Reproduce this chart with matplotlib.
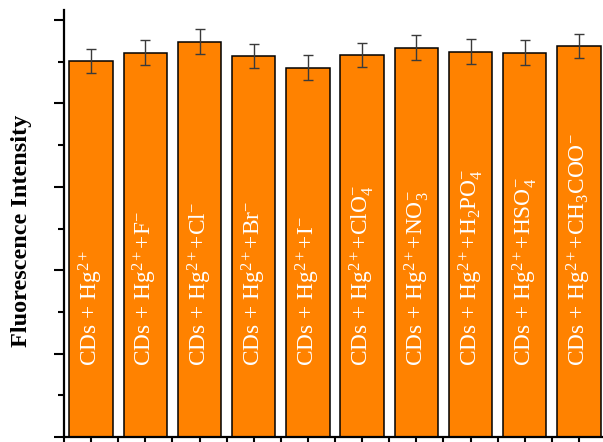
import matplotlib.pyplot as plt
import numpy as np

plt.rcParams['font.family'] = ['Liberation Serif', 'DejaVu Serif']
plt.rcParams['mathtext.fontset'] = 'custom'
plt.rcParams['mathtext.rm'] = 'Liberation Serif'
plt.rcParams['mathtext.it'] = 'Liberation Serif:italic'
plt.rcParams['mathtext.bf'] = 'Liberation Serif:bold'

labels = [
    r'CDs + Hg$^{2+}$',
    r'CDs + Hg$^{2+}$+F$^{-}$',
    r'CDs + Hg$^{2+}$+Cl$^{-}$',
    r'CDs + Hg$^{2+}$+Br$^{-}$',
    r'CDs + Hg$^{2+}$+I$^{-}$',
    r'CDs + Hg$^{2+}$+ClO$_{4}^{-}$',
    r'CDs + Hg$^{2+}$+NO$_{3}^{-}$',
    r'CDs + Hg$^{2+}$+H$_{2}$PO$_{4}^{-}$',
    r'CDs + Hg$^{2+}$+HSO$_{4}^{-}$',
    r'CDs + Hg$^{2+}$+CH$_{3}$COO$^{-}$',
]
values = [4.51, 4.61, 4.74, 4.565, 4.43, 4.58, 4.67, 4.62, 4.61, 4.69]
errors = [0.145, 0.15, 0.148, 0.142, 0.145, 0.148, 0.15, 0.15, 0.145, 0.145]

fig = plt.figure(figsize=(6.03, 4.42), dpi=100)
ax = fig.add_axes([64 / 603, 5 / 442, 542 / 603, 427 / 442])

x = np.arange(1, len(values) + 1)
ax.bar(x, values, width=0.8, color='#FF8200', edgecolor='black', linewidth=1.1, zorder=2)
ax.errorbar(x, values, yerr=errors, fmt='none', ecolor='#3a3a3a', elinewidth=1.0,
            capsize=3.3, capthick=1.0, zorder=3)

# labels written inside the bars
for xi, lab in zip(x, labels):
    ax.text(xi, 0.85, lab, rotation=90, ha='center', va='bottom', color='white',
            fontsize=16.8, zorder=4)

ax.set_xlim(0.5, 10.5)
ax.set_ylim(0, 5.12)
ax.set_yticks(np.arange(0, 5.5, 1))
ax.set_yticks(np.arange(0.5, 5.0, 1), minor=True)
ax.set_xticks(x)
ax.set_xticks(np.arange(0.5, 11, 1), minor=True)
ax.set_xticklabels([])
ax.set_yticklabels([])
ax.tick_params(axis='y', which='major', direction='out', length=7.5, width=1.5)
ax.tick_params(axis='y', which='minor', direction='out', length=4, width=1.5)
ax.tick_params(axis='x', which='both', direction='out', length=7, width=1.5)

for s in ['top', 'right']:
    ax.spines[s].set_visible(False)
for s in ['left', 'bottom']:
    ax.spines[s].set_linewidth(1.6)

fig.text(22 / 603, 1 - 231 / 442, 'Fluorescence Intensity', rotation=90,
         ha='center', va='center', fontsize=17.5, fontweight='bold')

fig.savefig('out.png', dpi=100)
